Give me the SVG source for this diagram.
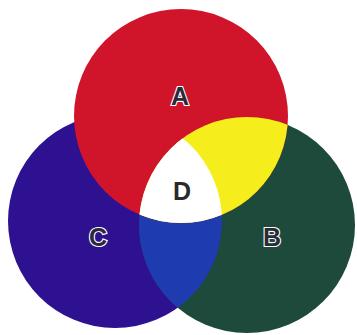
<svg xmlns="http://www.w3.org/2000/svg" width="357" height="335" viewBox="0 0 357 335">
<style>
.lbl{font-family:"Liberation Sans",Arial,sans-serif;font-size:25px;font-weight:bold;text-anchor:middle}
.ol{fill:#2a2a3a;stroke:#ffffff;stroke-width:2.2;paint-order:stroke}
.dk{fill:#2a2a2a}
</style>
<defs>
<clipPath id="clipA"><circle cx="181" cy="116" r="107"/></clipPath>
<clipPath id="clipB"><circle cx="247" cy="225" r="108"/></clipPath>
<clipPath id="clipC"><circle cx="115" cy="221" r="107"/></clipPath>
</defs>
<rect width="357" height="335" fill="#ffffff"/>
<g id="C"><circle cx="115" cy="221" r="107" fill="#2e1190"/></g>
<g id="B"><circle cx="247" cy="225" r="108" fill="#1d4a3a"/></g>
<g id="BC"><circle cx="115" cy="221" r="107" fill="#1e3cb0" clip-path="url(#clipB)"/></g>
<g id="A"><circle cx="181" cy="116" r="107" fill="#d0142a"/></g>
<g id="AB"><circle cx="247" cy="225" r="108" fill="#f6ee1c" clip-path="url(#clipA)"/></g>
<g id="D"><g clip-path="url(#clipA)"><circle cx="247" cy="225" r="108" fill="#ffffff" clip-path="url(#clipC)"/></g></g>
<g id="labels">
<text class="lbl ol" x="180" y="105">A</text>
<text class="lbl dk" x="182" y="200">D</text>
<text class="lbl ol" x="98" y="246">C</text>
<text class="lbl ol" x="272" y="246">B</text>
</g>
</svg>
